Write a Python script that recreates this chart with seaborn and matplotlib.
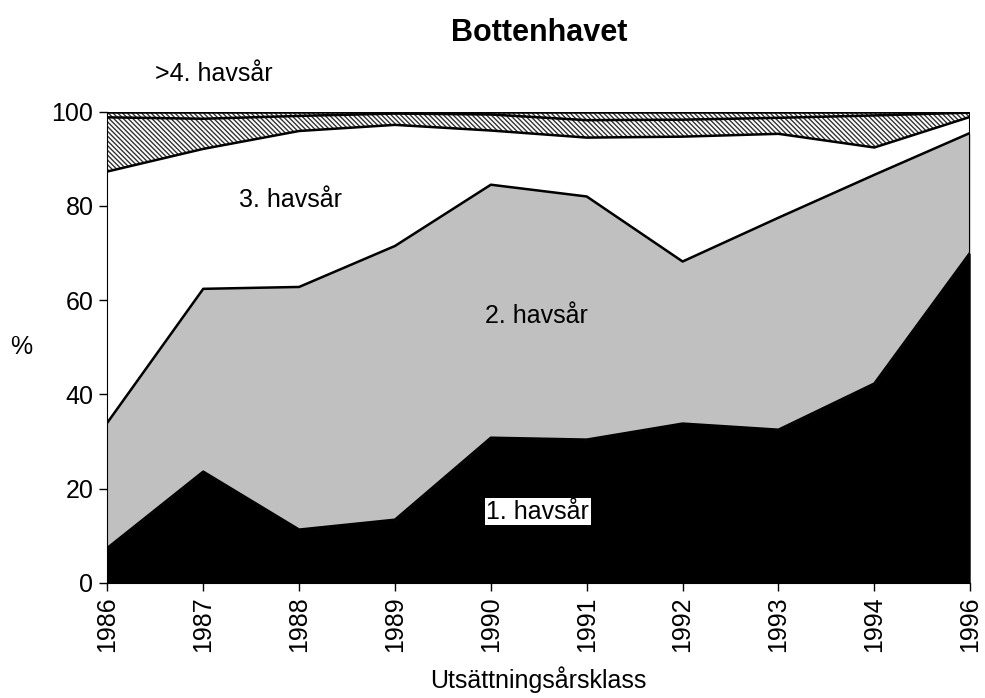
import matplotlib
matplotlib.use('Agg')
from matplotlib import pyplot as plt
import numpy as np
import seaborn as sns

years = ['1986', '1987', '1988', '1989', '1990', '1991', '1992', '1993', '1994', '1996']
# andel per havsår (%), läst från bilden
hav1 = [7.4, 23.6, 11.3, 13.4, 30.8, 30.4, 33.8, 32.5, 42.3, 70.1]
hav2 = [26.6, 38.8, 51.5, 58.1, 53.7, 51.6, 34.4, 45.0, 44.3, 25.4]
hav3 = [53.3, 29.7, 33.1, 25.7, 11.5, 12.5, 26.5, 17.8, 5.8, 3.4]
hav4 = [11.5, 6.4, 3.2, 2.4, 3.4, 3.7, 3.6, 3.4, 6.8, 0.9]
hav5 = [1.2, 1.5, 0.9, 0.4, 0.6, 1.8, 1.7, 1.3, 0.8, 0.2]

sns.set_style('ticks')
plt.rcParams['font.family'] = ['Liberation Sans', 'DejaVu Sans']
plt.rcParams['hatch.linewidth'] = 1.0
plt.rcParams['hatch.color'] = '#333333'
for k in ['text.color', 'axes.labelcolor', 'xtick.color', 'ytick.color', 'axes.edgecolor']:
    plt.rcParams[k] = 'black'

f, ax = plt.subplots(figsize=(9.85, 6.98), dpi=100)
x = np.arange(len(years))

layers = [hav1, hav2, hav3, hav4, hav5]
colors = ['black', '#c0c0c0', 'white', 'white', 'white']
hatches = [None, None, None, '\\\\\\\\\\\\\\', '\\\\\\\\\\\\\\']
base = np.zeros(len(years))
for vals, col, h in zip(layers, colors, hatches):
    top = base + np.array(vals)
    ax.fill_between(x, base, top, facecolor=col, hatch=h,
                    edgecolor='#333333' if h else col, linewidth=0)
    ax.plot(x, top, color='black', lw=1.8)
    base = top

ax.set_xlim(0, len(years) - 1)
ax.set_ylim(0, 100)
ax.set_xticks(x)
ax.set_xticklabels(years, rotation=90)
ax.set_yticks(range(0, 101, 20))
ax.tick_params(labelsize=18, direction='out', length=6, width=1, pad=4)
for s in ['top', 'right']:
    ax.spines[s].set_visible(False)
ax.plot([x[-1], x[-1]], [0, 100], color='black', lw=1.5)

ax.set_xlabel('Utsättningsårsklass', fontsize=18, labelpad=10)
ax.set_ylabel('%', fontsize=18, rotation=0, labelpad=22, va='center')
ax.set_title('Bottenhavet', fontsize=22, fontweight='bold', pad=51)

ax.text(1.91, 81.3, '3. havsår', fontsize=18, ha='center', va='center')
ax.text(4.48, 56.7, '2. havsår', fontsize=18, ha='center', va='center')
ax.text(4.49, 15.1, '1. havsår', fontsize=18, ha='center', va='center',
        bbox=dict(facecolor='white', edgecolor='none', pad=1))
ax.text(0.5, 107.9, '>4. havsår', fontsize=18, ha='left', va='center', clip_on=False)

f.subplots_adjust(left=0.109, right=0.985, top=0.84, bottom=0.165)
f.savefig('out.png', dpi=100)
